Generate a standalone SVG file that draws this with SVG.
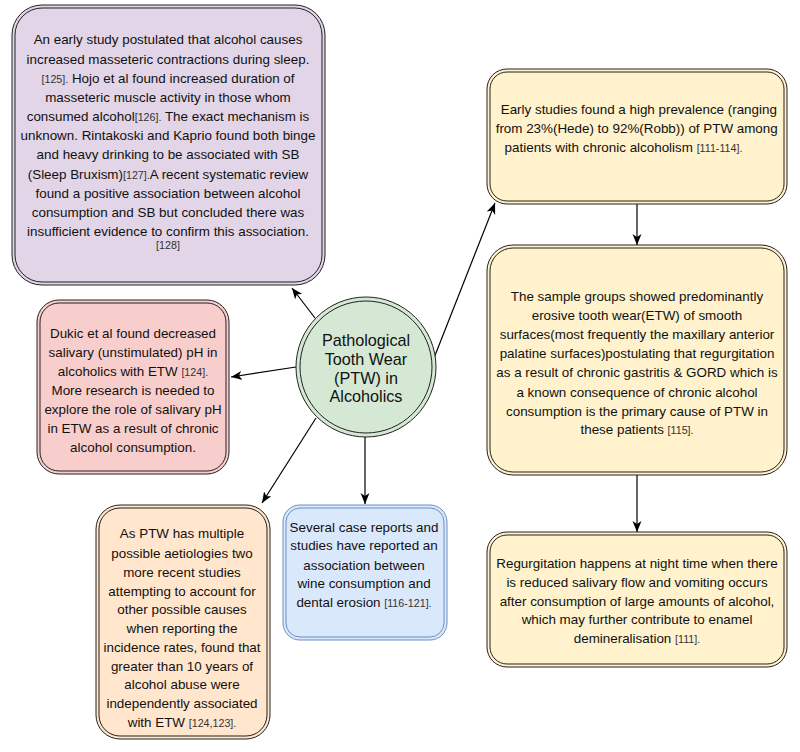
<svg xmlns="http://www.w3.org/2000/svg" width="800" height="752" viewBox="0 0 800 752">
<defs>
<marker id="arr" markerUnits="userSpaceOnUse" markerWidth="12" markerHeight="10" refX="11" refY="4.5" orient="auto">
<path d="M0,0 L11,4.5 L0,9 L3,4.5 Z" fill="#000"/>
</marker>
<style>
text{font-family:"Liberation Sans",Arial,Helvetica,sans-serif;font-size:13.4px;fill:#111;text-anchor:middle}
.c{font-size:10.7px;fill:#333}
.t{font-size:16.2px;fill:#111}
.o{stroke:#222;stroke-width:1}
.blue{stroke:#6c8ebf;stroke-width:1}
.e{stroke:#000;stroke-width:1.2;fill:none}
</style>
</defs>
<rect width="800" height="752" fill="#fff"/>

<g id="connectors">
<line class="e" x1="315" y1="318" x2="292" y2="288" marker-end="url(#arr)"/>
<line class="e" x1="296" y1="367" x2="231" y2="377" marker-end="url(#arr)"/>
<line class="e" x1="316" y1="418" x2="262" y2="503" marker-end="url(#arr)"/>
<line class="e" x1="365" y1="436" x2="365" y2="504" marker-end="url(#arr)"/>
<line class="e" x1="434" y1="358" x2="495" y2="203" marker-end="url(#arr)"/>
<line class="e" x1="637" y1="204" x2="637" y2="245" marker-end="url(#arr)"/>
<line class="e" x1="637" y1="475" x2="637" y2="532" marker-end="url(#arr)"/>
</g>

<g id="n-sleep">
<rect class="o" x="12" y="5" width="313" height="280" rx="30" fill="#e1d5e7"/>
<rect class="o" x="15" y="8" width="307" height="274" rx="27" fill="#e1d5e7"/>
<text x="168" y="44.3">An early study postulated that alcohol causes</text>
<text x="168" y="63.5">increased masseteric contractions during sleep.</text>
<text x="168" y="82.7"><tspan class="c">[125].</tspan> Hojo et al found increased duration of</text>
<text x="168" y="101.8">masseteric muscle activity in those whom</text>
<text x="168" y="121">consumed alcohol<tspan class="c">[126].</tspan> The exact mechanism is</text>
<text x="168" y="140.2">unknown. Rintakoski and Kaprio found both binge</text>
<text x="168" y="159.3">and heavy drinking to be associated with SB</text>
<text x="168" y="178.5">(Sleep Bruxism)<tspan class="c">[127].</tspan>A recent systematic review</text>
<text x="168" y="197.7">found a positive association between alcohol</text>
<text x="168" y="216.8">consumption and SB but concluded there was</text>
<text x="168" y="236">insufficient evidence to confirm this association.</text>
<text x="168" y="249" class="c">[128]</text>
</g>

<g id="n-saliva">
<rect class="o" x="37" y="300" width="192" height="174" rx="22" fill="#f8cecc"/>
<rect class="o" x="40" y="303" width="186" height="168" rx="19" fill="#f8cecc"/>
<text x="133" y="337.7">Dukic et al found decreased</text>
<text x="133" y="357">salivary (unstimulated) pH in</text>
<text x="133" y="376">alcoholics with ETW <tspan class="c">[124].</tspan></text>
<text x="133" y="395">More research is needed to</text>
<text x="133" y="414">explore the role of salivary pH</text>
<text x="133" y="433">in ETW as a result of chronic</text>
<text x="133" y="451.7">alcohol consumption.</text>
</g>

<g id="n-center">
<circle cx="366" cy="367" r="70" fill="#d5e8d4" stroke="#222"/>
<circle cx="366" cy="367" r="66" fill="#d5e8d4" stroke="#222"/>
<text class="t" x="366" y="346">Pathological</text>
<text class="t" x="366" y="365">Tooth Wear</text>
<text class="t" x="366" y="384">(PTW) in</text>
<text class="t" x="366" y="402">Alcoholics</text>
</g>

<g id="n-aetiology">
<rect class="o" x="96" y="505" width="174" height="234" rx="24" fill="#ffe6cc"/>
<rect class="o" x="99" y="508" width="168" height="228" rx="21" fill="#ffe6cc"/>
<text x="182" y="538.3">As PTW has multiple</text>
<text x="182" y="558.3">possible aetiologies two</text>
<text x="182" y="576.7">more recent studies</text>
<text x="182" y="595.7">attempting to account for</text>
<text x="182" y="614.3">other possible causes</text>
<text x="182" y="633.3">when reporting the</text>
<text x="182" y="651.7">incidence rates, found that</text>
<text x="182" y="670.7">greater than 10 years of</text>
<text x="182" y="689.3">alcohol abuse were</text>
<text x="182" y="708.3">independently associated</text>
<text x="182" y="726.7">with ETW <tspan class="c">[124,123].</tspan></text>
</g>

<g id="n-wine">
<rect class="blue" x="283" y="505" width="164" height="135" rx="17" fill="#dae8fc"/>
<rect class="blue" x="286" y="508" width="158" height="129" rx="14" fill="#dae8fc"/>
<text x="364" y="531.7">Several case reports and</text>
<text x="364" y="550">studies have reported an</text>
<text x="364" y="570">association between</text>
<text x="364" y="588.3">wine consumption and</text>
<text x="364" y="607.3">dental erosion <tspan class="c">[116-121].</tspan></text>
</g>

<g id="n-prevalence">
<rect class="o" x="487" y="69" width="300" height="135" rx="20" fill="#fff2cc"/>
<rect class="o" x="490" y="72" width="294" height="129" rx="17" fill="#fff2cc"/>
<text x="638.8" y="114.3">Early studies found a high prevalence (ranging</text>
<text x="636.7" y="133.3">from 23%(Hede) to 92%(Robb)) of PTW among</text>
<text x="623.5" y="152.3">patients with chronic alcoholism <tspan class="c">[111-114].</tspan></text>
</g>

<g id="n-sample">
<rect class="o" x="487" y="245" width="300" height="230" rx="26" fill="#fff2cc"/>
<rect class="o" x="490" y="248" width="294" height="224" rx="23" fill="#fff2cc"/>
<text x="637" y="300.7">The sample groups showed predominantly</text>
<text x="637" y="320">erosive tooth wear(ETW) of smooth</text>
<text x="637" y="339">surfaces(most frequently the maxillary anterior</text>
<text x="637" y="358.3">palatine surfaces)postulating that regurgitation</text>
<text x="637" y="377.3">as a result of chronic gastritis &amp; GORD which is</text>
<text x="637" y="396.7">a known consequence of chronic alcohol</text>
<text x="637" y="415.7">consumption is the primary cause of PTW in</text>
<text x="637" y="434.3">these patients <tspan class="c">[115].</tspan></text>
</g>

<g id="n-regurgitation">
<rect class="o" x="487" y="532" width="300" height="135" rx="20" fill="#fff2cc"/>
<rect class="o" x="490" y="535" width="294" height="129" rx="17" fill="#fff2cc"/>
<text x="637" y="567.7">Regurgitation happens at night time when there</text>
<text x="637" y="586.7">is reduced salivary flow and vomiting occurs</text>
<text x="637" y="605.7">after consumption of large amounts of alcohol,</text>
<text x="637" y="624.3">which may further contribute to enamel</text>
<text x="637" y="643.3">demineralisation <tspan class="c">[111].</tspan></text>
</g>
</svg>
